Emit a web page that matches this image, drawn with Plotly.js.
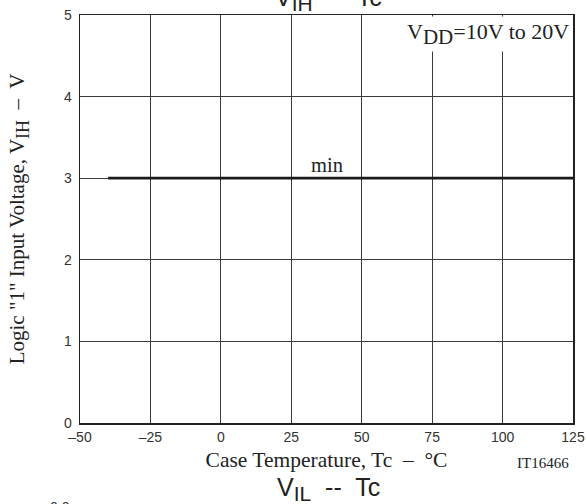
<!DOCTYPE html>
<html>
<head>
<meta charset="utf-8">
<script src="https://cdn.plot.ly/plotly-3.0.1.min.js"></script>
<style>html,body{margin:0;padding:0;background:#fff;}#chart{width:587px;height:504px;}</style>
</head>
<body>
<div id="chart"></div>
<script>
// Data
const temperature = [-40, 125];
const vihMin = [3, 3];
const xTickVals = [-50, -25, 0, 25, 50, 75, 100, 125];
const xTickText = ['\u201350', '\u201325', '0', '25', '50', '75', '100', '125'];
const yTickVals = [0, 1, 2, 3, 4, 5];
const yTickText = ['0', '1', '2', '3', '4', '5'];

const serif = '"Liberation Serif", "Times New Roman", serif';
const sans = '"Liberation Sans", Arial, sans-serif';

function sub(t, size) { return '<sub><span style="font-size:' + size + 'px">' + t + '</span></sub>'; }

const trace = {
  x: temperature, y: vihMin, mode: 'lines', type: 'scatter',
  line: {color: '#1a1a1a', width: 2.8}, hoverinfo: 'skip', showlegend: false
};

const H = 408, W = 493;
function py(pix) { return (423 - pix) / H; }
function px(pix) { return (pix - 80) / W; }

const layout = {
  width: 587, height: 504,
  margin: {l: 80, r: 14, t: 15, b: 81},
  paper_bgcolor: '#fff', plot_bgcolor: '#fff',
  showlegend: false,
  xaxis: {
    range: [-50, 125], tickvals: xTickVals, ticktext: xTickText,
    showgrid: true, gridcolor: '#3a3a3a', gridwidth: 1,
    zeroline: false, showline: true, linecolor: '#222', linewidth: 1.5, mirror: true,
    ticks: '', tickfont: {family: sans, size: 14, color: '#333'}, ticklabelstandoff: 1,
    title: {text: 'Case Temperature, Tc  \u2013  \u00B0C', font: {family: serif, size: 21.5, color: '#222'}, standoff: 7}
  },
  yaxis: {
    range: [0, 5], tickvals: yTickVals, ticktext: yTickText,
    showgrid: true, gridcolor: '#3a3a3a', gridwidth: 1,
    zeroline: false, showline: true, linecolor: '#222', linewidth: 1.5, mirror: true,
    ticks: '', tickfont: {family: sans, size: 14, color: '#333'}, ticklabelstandoff: 4,
    title: {text: 'Logic "1" Input Voltage, V' + sub('IH', 18) + '  \u2013  V', font: {family: serif, size: 21, color: '#222'}, standoff: 33}
  },
  annotations: [
    {x: 37.7, y: 3.0, xref: 'x', yref: 'y', text: 'min', showarrow: false, yanchor: 'bottom', yshift: 0,
     font: {family: serif, size: 20.5, color: '#222'}},
    {x: 0.997, y: 0.997, xref: 'paper', yref: 'paper', xanchor: 'right', yanchor: 'top',
     text: 'V' + sub('DD', 21) + '=10V to 20V', showarrow: false, bgcolor: '#fff', borderpad: 2,
     font: {family: serif, size: 22, color: '#222'}},
    {x: 0.995, y: py(463), xref: 'paper', yref: 'paper', xanchor: 'right', yanchor: 'middle',
     text: 'IT16466', showarrow: false, font: {family: serif, size: 15, color: '#222'}},
    {x: px(328), y: py(-1), xref: 'paper', yref: 'paper', xanchor: 'center', yanchor: 'middle',
     text: 'V' + sub('IH', 21) + '  --  Tc', showarrow: false, font: {family: sans, size: 25, color: '#222'}},
    {x: px(328), y: py(489), xref: 'paper', yref: 'paper', xanchor: 'center', yanchor: 'middle',
     text: 'V' + sub('IL', 21) + '  --  Tc', showarrow: false, font: {family: sans, size: 25, color: '#222'}},
    {x: px(60), y: py(507), xref: 'paper', yref: 'paper', xanchor: 'center', yanchor: 'middle',
     text: '0.0', showarrow: false, font: {family: sans, size: 14, color: '#333'}}
  ]
};

Plotly.newPlot('chart', [trace], layout, {staticPlot: true, displayModeBar: false});
</script>
</body>
</html>
